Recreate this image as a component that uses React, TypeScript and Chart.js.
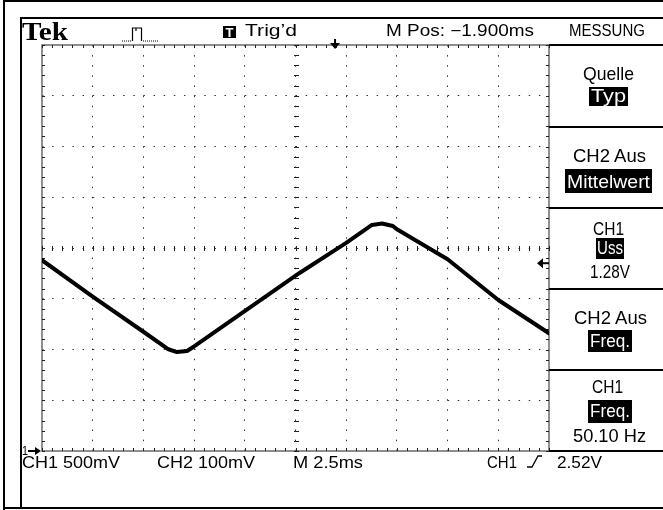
import React, { useEffect, useRef } from 'react';
import { Chart, registerables } from 'chart.js';

Chart.register(...registerables);

// ---- data (CH1 trace) ----
const TIME_MS = [0, 2.5, 5.0, 6.2, 6.65, 7.15, 7.5, 12.7, 15.0, 16.27, 16.77, 17.3, 17.5, 20.0, 22.5, 25.0];
const CH1_V = [1.88, 1.52, 1.175, 1.005, 0.975, 0.985, 1.03, 1.754, 2.05, 2.227, 2.241, 2.217, 2.184, 1.889, 1.488, 1.16];

// ---- axes: 10 x 2.5 ms, 8 x 500 mV ----
const X_MIN = 0;
const X_MAX = 25;
const X_STEP = 2.5;
const Y_MIN = 0;
const Y_MAX = 4;
const Y_STEP = 0.5;

// markers
const TRIG_POS_MS = 14.45;
const TRIG_LEVEL_V = 1.85;
const GROUND_V = 0;

// ---- texts ----
const HEADER = ['Tek', 'Trig\u2019d', 'M Pos: \u22121.900ms', 'MESSUNG'];
const FOOTER = ['CH1 500mV', 'CH2 100mV', 'M 2.5ms', 'CH1', '2.52V'];
const MENU = [
  ['Quelle', 'Typ', ''],
  ['CH2 Aus', 'Mittelwert', ''],
  ['CH1', 'Uss', '1.28V'],
  ['CH2 Aus', 'Freq.', ''],
  ['CH1', 'Freq.', '50.10 Hz'],
];

const SANS = '"Liberation Sans", Arial, sans-serif';
const SERIF = '"Liberation Serif", "Times New Roman", serif';

const scopePlugin = {
  id: 'scope',
  beforeDatasetsDraw(chart: any) {
    const { ctx, chartArea: a, scales } = chart;
    const x = scales.x;
    const y = scales.y;
    ctx.save();
    // border
    ctx.strokeStyle = '#6a6a6a';
    ctx.lineWidth = 1.5;
    ctx.strokeRect(a.left, a.top, a.right - a.left, a.bottom - a.top);
    ctx.strokeStyle = '#222';
    ctx.lineWidth = 1;
    ctx.beginPath();
    const nx = Math.round(((X_MAX - X_MIN) / X_STEP) * 5);
    const ny = Math.round(((Y_MAX - Y_MIN) / Y_STEP) * 5);
    const cx = Math.round(x.getPixelForValue((X_MIN + X_MAX) / 2)) + 0.5;
    const cy = Math.round(y.getPixelForValue((Y_MIN + Y_MAX) / 2)) + 0.5;
    for (let i = 0; i <= nx; i++) {
      const px = Math.round(x.getPixelForValue(X_MIN + (i * X_STEP) / 5)) + 0.5;
      ctx.moveTo(px, a.top);
      ctx.lineTo(px, a.top + 3);
      ctx.moveTo(px, a.bottom);
      ctx.lineTo(px, a.bottom - 3);
      ctx.moveTo(px, cy - 2.5);
      ctx.lineTo(px, cy + 2.5);
    }
    for (let j = 0; j <= ny; j++) {
      const py = Math.round(y.getPixelForValue(Y_MIN + (j * Y_STEP) / 5)) + 0.5;
      ctx.moveTo(a.left, py);
      ctx.lineTo(a.left + 3, py);
      ctx.moveTo(a.right, py);
      ctx.lineTo(a.right - 3, py);
      ctx.moveTo(cx - 2.5, py);
      ctx.lineTo(cx + 2.5, py);
    }
    ctx.stroke();
    ctx.restore();
  },
  afterDatasetsDraw(chart: any) {
    const { ctx, chartArea: a, scales } = chart;
    const x = scales.x;
    const y = scales.y;
    ctx.save();
    ctx.fillStyle = '#000';
    // trigger position (top)
    const tp = x.getPixelForValue(TRIG_POS_MS);
    ctx.fillRect(tp - 1, a.top - 6, 2, 5);
    ctx.beginPath();
    ctx.moveTo(tp - 5, a.top - 2);
    ctx.lineTo(tp + 5, a.top - 2);
    ctx.lineTo(tp, a.top + 4);
    ctx.closePath();
    ctx.fill();
    // trigger level (right)
    const tl = y.getPixelForValue(TRIG_LEVEL_V);
    ctx.fillRect(a.right - 7, tl - 1, 7, 2);
    ctx.beginPath();
    ctx.moveTo(a.right - 12, tl);
    ctx.lineTo(a.right - 6, tl - 5);
    ctx.lineTo(a.right - 6, tl + 5);
    ctx.closePath();
    ctx.fill();
    // ground marker (left)
    const g = y.getPixelForValue(GROUND_V);
    ctx.fillRect(a.left - 14, g - 1, 9, 2);
    ctx.beginPath();
    ctx.moveTo(a.left - 1, g);
    ctx.lineTo(a.left - 7, g - 4);
    ctx.lineTo(a.left - 7, g + 4);
    ctx.closePath();
    ctx.fill();
    ctx.restore();
  },
};

function Txt(p: { x: number; y: number; w: number; t: string; s?: number; c?: string; f?: string; b?: boolean }) {
  return (
    <text
      x={p.x}
      y={p.y}
      textLength={p.w}
      lengthAdjust="spacingAndGlyphs"
      fontSize={p.s ?? 16}
      fill={p.c ?? '#000'}
      fontFamily={p.f ?? SANS}
      fontWeight={p.b ? 'bold' : 'normal'}
    >
      {p.t}
    </text>
  );
}

export default function App() {
  const ref = useRef<HTMLCanvasElement>(null);

  useEffect(() => {
    if (!ref.current) return;
    const minorX = X_STEP / 5;
    const minorY = Y_STEP / 5;
    const chart = new Chart(ref.current, {
      type: 'line',
      data: {
        datasets: [
          {
            label: 'CH1',
            data: TIME_MS.map((t, i) => ({ x: t, y: CH1_V[i] })),
            borderColor: '#000',
            borderWidth: 4,
            pointRadius: 0,
            tension: 0,
            borderJoinStyle: 'round',
            borderCapStyle: 'round',
          },
        ],
      },
      plugins: [scopePlugin],
      options: {
        animation: false,
        responsive: false,
        events: [],
        layout: { padding: { left: 42, top: 45, right: 114, bottom: 59 } },
        plugins: { legend: { display: false }, tooltip: { enabled: false }, title: { display: false } },
        scales: {
          x: {
            type: 'linear',
            min: X_MIN,
            max: X_MAX,
            ticks: { stepSize: X_STEP, display: false },
            grid: {
              drawTicks: false,
              tickLength: 0,
              lineWidth: 1,
              color: (c: any) =>
                c.tick && (c.tick.value === X_MIN || c.tick.value === X_MAX) ? 'rgba(0,0,0,0)' : '#333',
            },
            border: { display: false, dash: [1.5, (506 / 50) - 1.5] },
            afterFit: (s: any) => {
              s.height = 0;
            },
          },
          y: {
            type: 'linear',
            min: Y_MIN,
            max: Y_MAX,
            ticks: { stepSize: Y_STEP, display: false },
            grid: {
              drawTicks: false,
              tickLength: 0,
              lineWidth: 1,
              color: (c: any) =>
                c.tick && (c.tick.value === Y_MIN || c.tick.value === Y_MAX) ? 'rgba(0,0,0,0)' : '#333',
            },
            border: { display: false, dash: [1.5, (507 / 50) - 1.5] },
            afterFit: (s: any) => {
              s.width = 0;
            },
          },
        },
      },
    } as any);
    void minorX;
    void minorY;
    return () => chart.destroy();
  }, []);

  const panelLines = [44, 126, 207, 288, 369, 450];

  return (
    <div style={{ position: 'absolute', left: 0, top: 0, width: 663, height: 510, background: '#fff', overflow: 'hidden' }}>
      <canvas ref={ref} width={663} height={510} style={{ position: 'absolute', left: 0, top: 0, display: 'block' }} />
      <svg width={663} height={510} style={{ position: 'absolute', left: 0, top: 0 }}>
        {/* frames */}
        <rect x={3} y={0} width={660} height={2} fill="#000" />
        <rect x={3} y={0} width={2} height={510} fill="#000" />
        <rect x={3} y={507} width={660} height={2} fill="#000" />
        <rect x={20} y={17} width={643} height={2} fill="#000" />
        <rect x={20} y={17} width={2} height={492} fill="#000" />
        {panelLines.map((py) => (
          <rect key={py} x={549} y={py} width={114} height={2} fill="#000" />
        ))}

        {/* header */}
        <Txt x={22} y={40} w={46} t={HEADER[0]} s={26} f={SERIF} b />
        <g fill="none" stroke="#000" strokeWidth={1.2}>
          <path d="M132.5 41 V28 H141.5 V41" />
          <path d="M136 28 V31" />
          <path d="M122 41 H131" strokeDasharray="1 1" />
          <path d="M143 41 H158" strokeDasharray="1 1" />
        </g>
        <rect x={223} y={26} width={13} height={12} fill="#000" />
        <Txt x={225.5} y={36.5} w={8} t="T" s={12} c="#fff" b />
        <Txt x={245} y={36} w={52} t={HEADER[1]} />
        <Txt x={386} y={36} w={148} t={HEADER[2]} />
        <Txt x={569} y={36} w={76} t={HEADER[3]} />

        {/* menu panel */}
        <Txt x={583} y={80} w={51} t={MENU[0][0]} s={18.5} />
        <rect x={589} y={87} width={39} height={19} fill="#000" />
        <Txt x={591} y={101.5} w={35} t={MENU[0][1]} s={18.5} c="#fff" />

        <Txt x={573} y={162} w={73} t={MENU[1][0]} s={18.5} />
        <rect x={565} y={169} width={87} height={24} fill="#000" />
        <Txt x={567} y={187.5} w={83} t={MENU[1][1]} s={18.5} c="#fff" />

        <Txt x={593} y={234.5} w={31} t={MENU[2][0]} s={18.5} />
        <rect x={596} y={238} width={28} height={21} fill="#000" />
        <Txt x={597} y={254} w={26} t={MENU[2][1]} s={18.5} c="#fff" />
        <Txt x={590} y={277.5} w={40} t={MENU[2][2]} s={18.5} />

        <Txt x={574} y={324} w={73} t={MENU[3][0]} s={18.5} />
        <rect x={588} y={330} width={44} height={22} fill="#000" />
        <Txt x={590} y={346.5} w={40} t={MENU[3][1]} s={18.5} c="#fff" />

        <Txt x={592} y={393} w={31} t={MENU[4][0]} s={18.5} />
        <rect x={588} y={400} width={44} height={23} fill="#000" />
        <Txt x={590} y={417} w={40} t={MENU[4][1]} s={18.5} c="#fff" />
        <Txt x={573} y={441.5} w={73} t={MENU[4][2]} s={18.5} />

        {/* ground marker label */}
        <Txt x={22} y={455} w={6} t="1" s={13} />

        {/* footer */}
        <Txt x={22} y={467.5} w={98} t={FOOTER[0]} s={16.5} />
        <Txt x={157} y={467.5} w={98} t={FOOTER[1]} s={16.5} />
        <Txt x={293} y={467.5} w={70} t={FOOTER[2]} s={16.5} />
        <Txt x={487} y={467.5} w={30} t={FOOTER[3]} s={16.5} />
        <path d="M527 467 H532 L538 456 H542" fill="none" stroke="#000" strokeWidth={1.3} />
        <Txt x={557} y={467.5} w={45} t={FOOTER[4]} s={16.5} />
      </svg>
    </div>
  );
}
